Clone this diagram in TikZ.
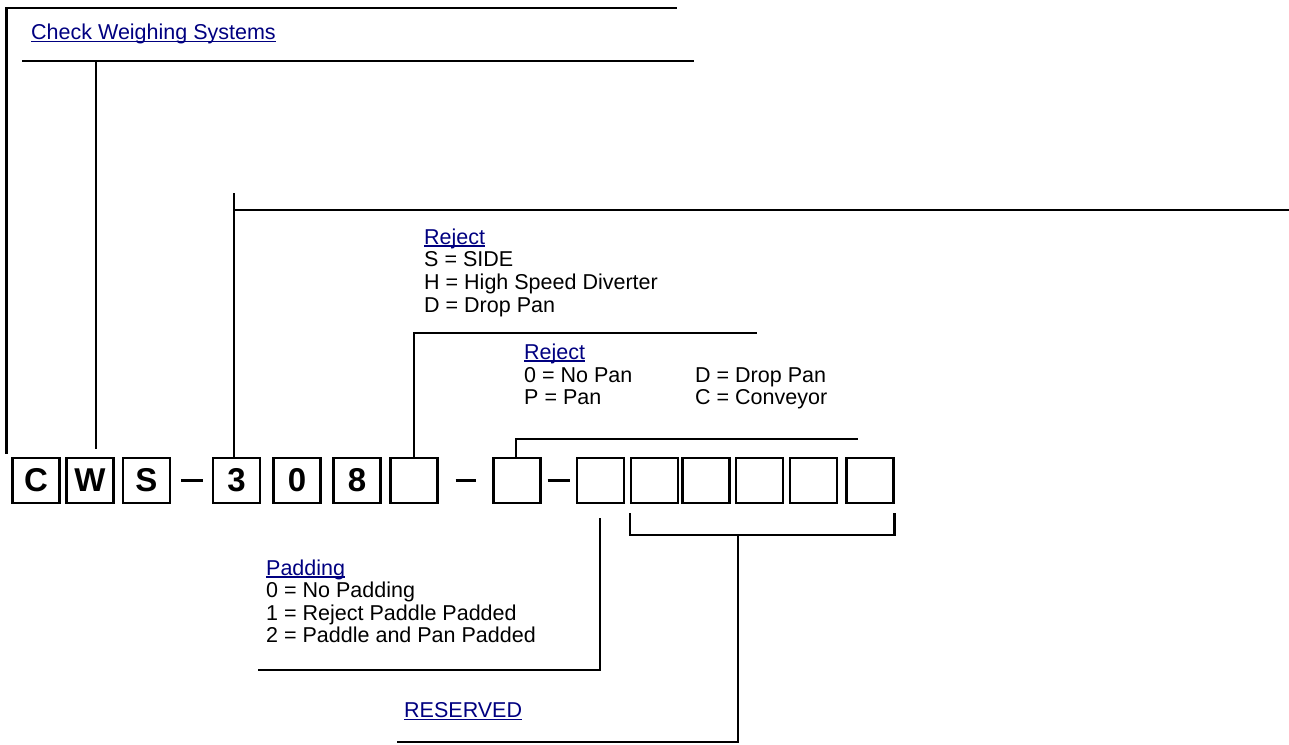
\documentclass[tikz,border=0pt]{standalone}
\usepackage{fontspec}
\setmainfont{Liberation Sans}
\usetikzlibrary{calc}
\definecolor{linkblue}{RGB}{0,0,128}
% underlined link text, rule cut through the descenders
\newcommand{\lnk}[1]{{\color{linkblue}\setbox0\hbox{#1}\rlap{\rule[-2.6pt]{\wd0}{1.4pt}}\box0}}

\begin{document}
\begin{tikzpicture}[x=1pt, y=-1pt,
  cella/.style={draw=black, line width=2.2pt, minimum width=47pt, minimum height=45pt,
                inner sep=0pt, font=\fontsize{33}{33}\selectfont\bfseries},
  lead/.style={draw=black, line width=2.4pt},
  hyph/.style={draw=black, line width=3.3pt},
  txt/.style={inner sep=0pt, anchor=base west, font=\fontsize{21.5}{22.5}\selectfont}
]
\useasboundingbox (0,0) rectangle (1289,744);

%--------------------------------------------------------------
% Caselle del codice
%--------------------------------------------------------------
\foreach \nm/\cx/\lbl in {C/36/C, W/90/W, S/146.5/S, d3/236.5/3, d0/297/0, d8/357/8,
  b1/414/{}, b2/517/{}, b3/600.5/{}, b4/654.5/{}, b5/706/{}, b6/759.5/{},
  b7/813.5/{}, b8/870/{}}{
  \node[cella] (\nm) at (\cx,480.5) {\lbl};
}

\draw[hyph] ([xshift=10pt]S.east) -- ([xshift=-9pt]d3.west);
\draw[hyph] ([xshift=17pt]b1.east) -- ([xshift=-16pt]b2.west);
\draw[hyph] ([xshift=6pt]b2.east) -- ([xshift=-6pt]b3.west);

%--------------------------------------------------------------
% Coordinate libere dei richiami
%--------------------------------------------------------------
\coordinate (l1end) at (677,8);
\coordinate (l2beg) at (22,61);
\coordinate (l2end) at (694,61);
\coordinate (l3top) at (234,193);
\coordinate (l3end) at (1289,210);
\coordinate (l4end) at (757,333);
\coordinate (l5end) at (858,439);
\coordinate (l6end) at (258,670);
\coordinate (brkmid) at (738,534);
\coordinate (l7end) at (397,742);

%--------------------------------------------------------------
% Check Weighing Systems
%--------------------------------------------------------------
\draw[lead] ([xshift=-5pt, yshift=3pt]C.north west) |- (l1end);
\node[txt] (cws) at (31,39.5) {\lnk{Check Weighing Systems}};
\draw[lead] (l2beg) -- (l2end);
\draw[lead] ([xshift=6pt, yshift=8pt]W.north) -- ([xshift=6pt]W.north |- l2beg);

%--------------------------------------------------------------
% Serie 308
%--------------------------------------------------------------
\draw[lead] ([xshift=-2.5pt]d3.north) -- (l3top);
\draw[lead] (l3top |- l3end) -- (l3end);

%--------------------------------------------------------------
% Reject (prima casella vuota)
%--------------------------------------------------------------
\foreach \i/\y/\t in {0/244/{\lnk{Reject}}, 1/266.7/{S = SIDE},
  2/289.4/{H = High Speed Diverter}, 3/312/{D = Drop Pan}}{
  \node[txt] (rejA\i) at (424,\y) {\t};
}
\draw[lead] (b1.north) |- (l4end);

%--------------------------------------------------------------
% Reject (seconda casella vuota)
%--------------------------------------------------------------
\node[txt] (rejB0) at (524,359) {\lnk{Reject}};
\node[txt] (rejB1) at (524,382) {0 = No Pan};
\node[txt] (rejB2) at (524,404.5) {P = Pan};
\node[txt] (rejB3) at (695,382) {D = Drop Pan};
\node[txt] (rejB4) at (695,404.5) {C = Conveyor};
\draw[lead] ([xshift=-1pt]b2.north) |- (l5end);

%--------------------------------------------------------------
% Padding
%--------------------------------------------------------------
\foreach \i/\y/\t in {0/575/{\lnk{Padding}}, 1/597.5/{0 = No Padding},
  2/620/{1 = Reject Paddle Padded}, 3/642.5/{2 = Paddle and Pan Padded}}{
  \node[txt] (pad\i) at (266,\y) {\t};
}
\draw[lead] ([xshift=-0.5pt, yshift=-14pt]b3.south) |- (l6end);

%--------------------------------------------------------------
% Reserved
%--------------------------------------------------------------
\draw[lead] ([yshift=-9pt]b4.south west) -- ([yshift=-31pt]b4.south west)
  -| ([yshift=-9pt]b8.south east);
\draw[lead] (brkmid) |- (l7end);
\node[txt] (resv) at (404,717.5) {\lnk{RESERVED}};

\end{tikzpicture}
\end{document}
